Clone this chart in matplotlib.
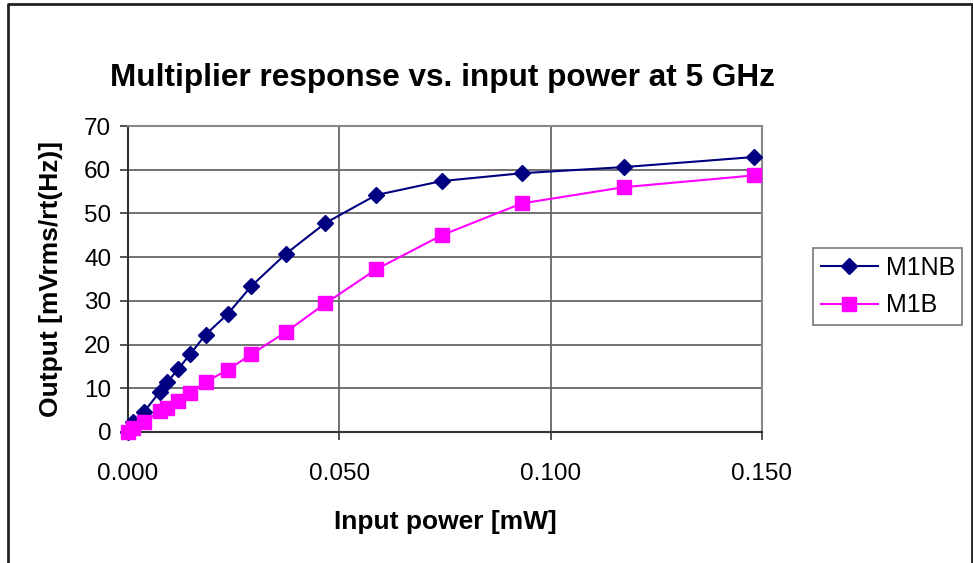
import matplotlib.pyplot as plt
from matplotlib.lines import Line2D

# input power [mW]
power = [0.0, 0.0012, 0.0038, 0.0075, 0.0093, 0.0118, 0.0147, 0.0184,
         0.0236, 0.0292, 0.0374, 0.0467, 0.0587, 0.0742, 0.0932, 0.1173, 0.1481]
m1nb = [0.0, 2.2, 4.6, 9.2, 11.4, 14.3, 17.8, 22.3,
        27.0, 33.4, 40.8, 47.8, 54.2, 57.4, 59.2, 60.6, 62.9]
m1b = [0.0, 0.9, 2.4, 4.7, 5.6, 7.0, 8.9, 11.5,
       14.2, 17.8, 22.9, 29.4, 37.2, 45.0, 52.3, 56.0, 58.7]

plt.rcParams['font.family'] = ['Liberation Sans', 'DejaVu Sans']

W, H = 973, 563
fig = plt.figure(figsize=(W / 100, H / 100), dpi=100)
ax = fig.add_axes([128 / W, 1 - 432 / H, (762 - 128) / W, (432 - 126) / H])

ax.plot(power, m1nb, color='#000080', marker='D', markersize=8, lw=1.5,
        label='M1NB', clip_on=False, zorder=3)
ax.plot(power, m1b, color='#FF00FF', marker='s', markersize=10, lw=1.5,
        label='M1B', clip_on=False, zorder=3)

ax.set_xlim(0, 0.15)
ax.set_ylim(0, 70)
ax.set_xticks([0, 0.05, 0.1, 0.15])
ax.set_xticklabels(['0.000', '0.050', '0.100', '0.150'])
ax.set_yticks(range(0, 71, 10))
ax.tick_params(labelsize=17.5, length=6, width=1.2, color='#333333', direction='out')
ax.tick_params(axis='x', pad=16)
ax.tick_params(axis='y', pad=6)
ax.grid(True, color='#666666', lw=1.3)
ax.set_axisbelow(True)
for side in ['top', 'right']:
    ax.spines[side].set_color('#888888')
    ax.spines[side].set_linewidth(1.5)
for side in ['left', 'bottom']:
    ax.spines[side].set_color('#333333')
    ax.spines[side].set_linewidth(1.5)

ax.set_xlabel('Input power [mW]', fontsize=19, fontweight='bold', labelpad=18)
ax.set_ylabel('Output [mVrms/rt(Hz)]', fontsize=19, fontweight='bold', labelpad=15)
fig.text(442 / W, 1 - 78 / H, 'Multiplier response vs. input power at 5 GHz',
         fontsize=22.7, fontweight='bold', ha='center', va='center')

leg = fig.legend(loc='upper left', bbox_to_anchor=(813 / W, 1 - 248 / H),
                 borderaxespad=0, fontsize=18, frameon=True, fancybox=False,
                 edgecolor='#555555', borderpad=0.3, labelspacing=0.55,
                 handlelength=2.3, handletextpad=0.3)
leg.get_frame().set_linewidth(1.2)

# chart-area border (left, top, right)
fig.add_artist(Line2D([8 / W, 8 / W, 972 / W, 972 / W], [0, 1 - 4 / H, 1 - 4 / H, 0],
                      transform=fig.transFigure, color='#222222', lw=2))

fig.savefig('out.png', dpi=100)
